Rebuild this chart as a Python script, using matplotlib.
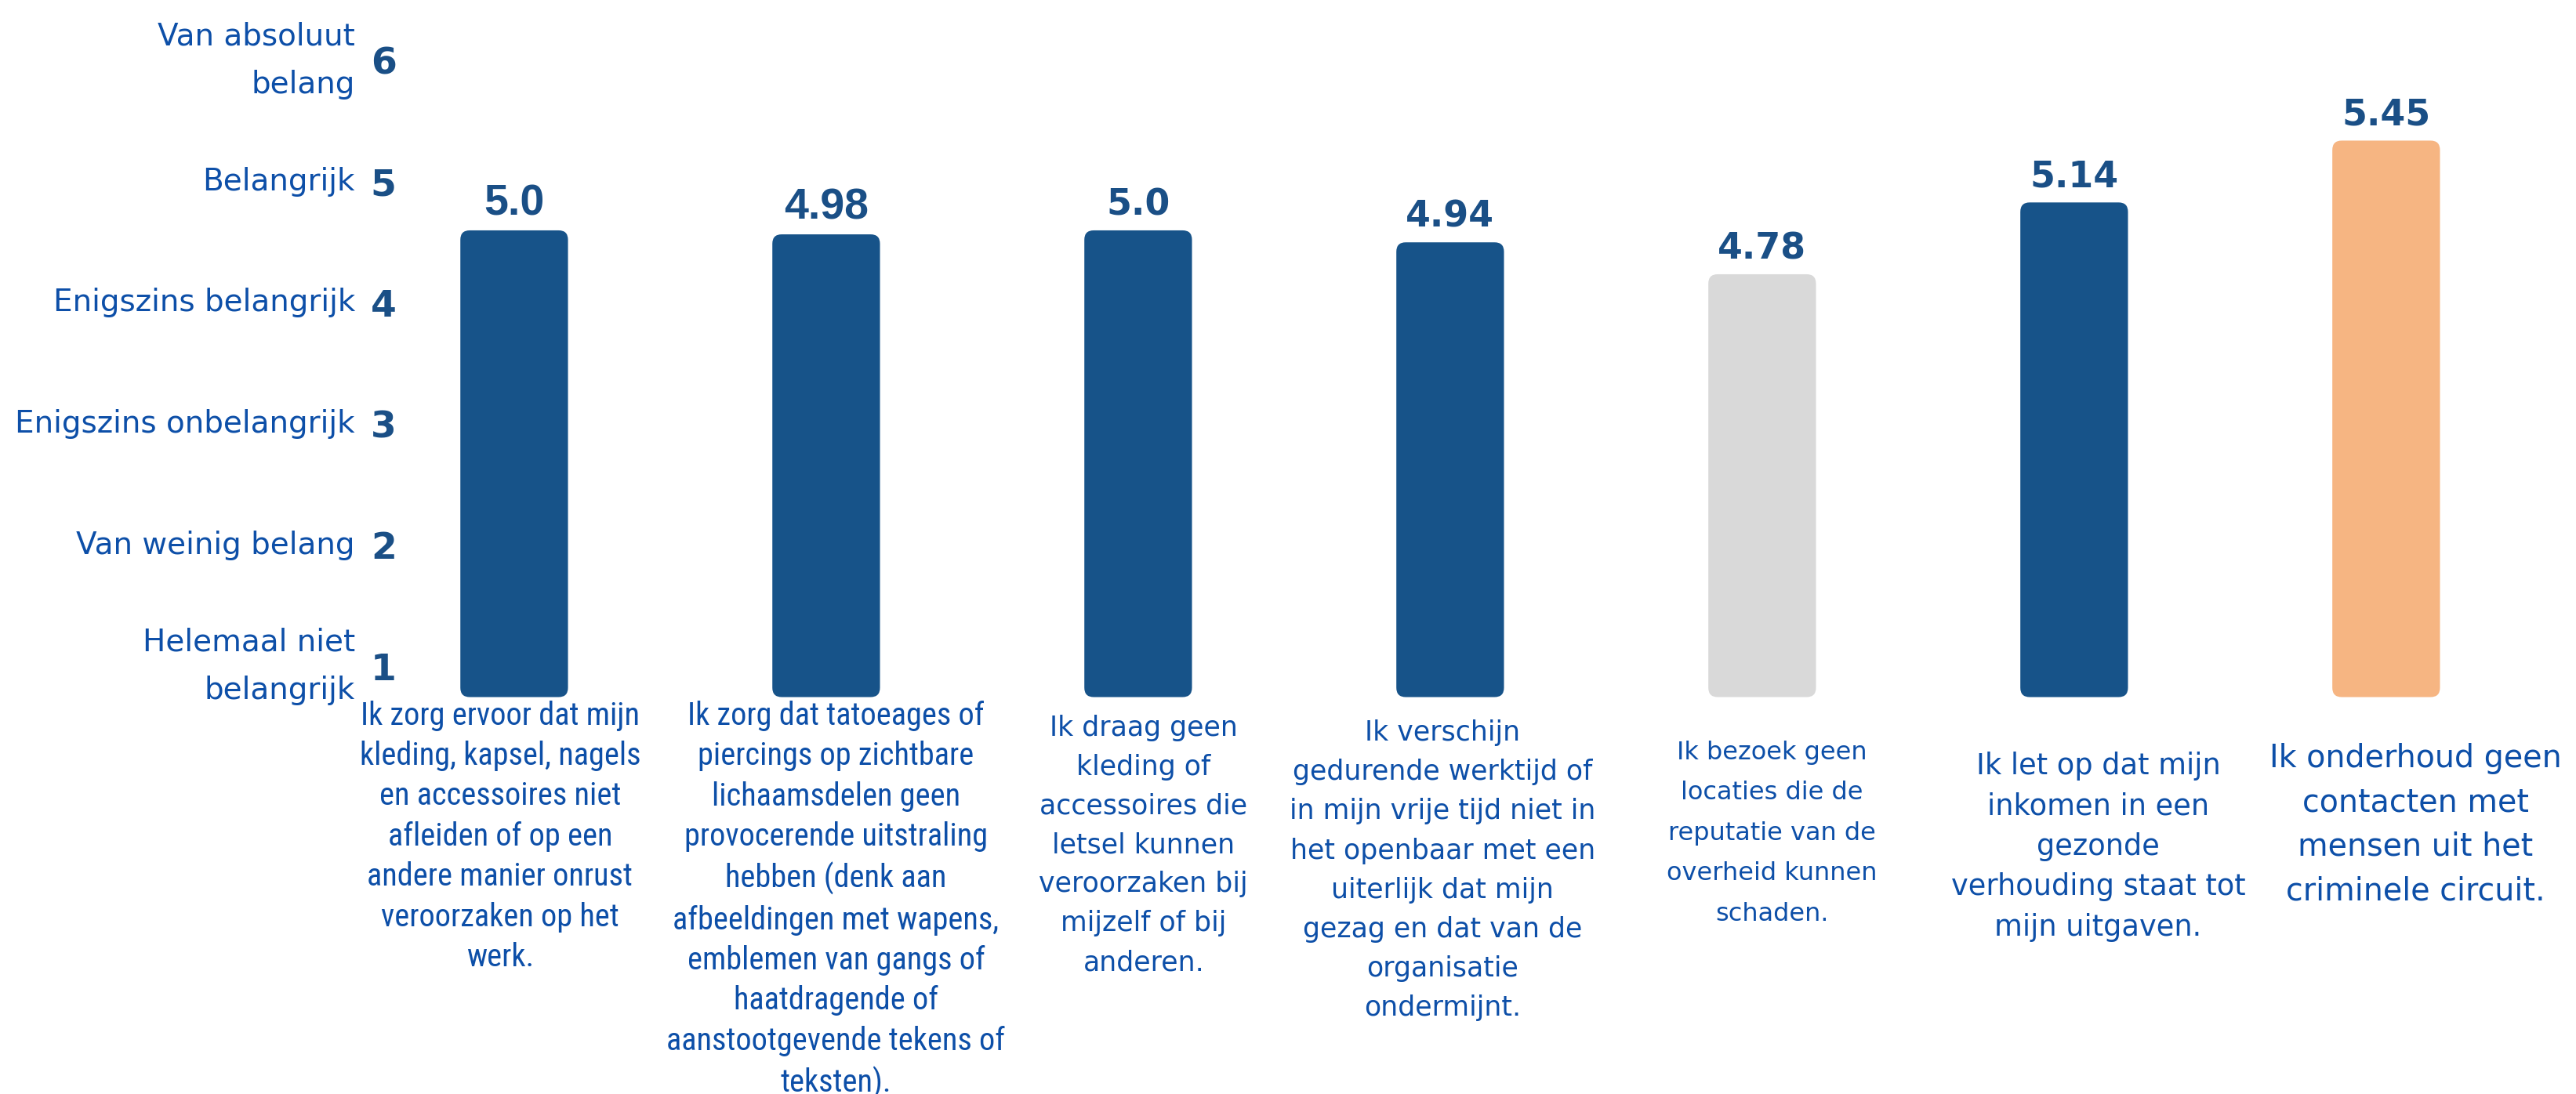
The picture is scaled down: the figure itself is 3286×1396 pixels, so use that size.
import matplotlib
matplotlib.use('Agg')

import matplotlib.pyplot as plt
from matplotlib import font_manager
from matplotlib.patches import FancyBboxPatch
from matplotlib.transforms import blended_transform_factory

# data
scores = [5.0, 4.98, 5.0, 4.94, 4.78, 5.14, 5.45]
statements = [
    "Ik zorg ervoor dat mijn\nkleding, kapsel, nagels\nen accessoires niet\nafleiden of op een\n"
    "andere manier onrust\nveroorzaken op het\nwerk.",
    "Ik zorg dat tatoeages of\npiercings op zichtbare\nlichaamsdelen geen\nprovocerende uitstraling\n"
    "hebben (denk aan\nafbeeldingen met wapens,\nemblemen van gangs of\nhaatdragende of\n"
    "aanstootgevende tekens of\nteksten).",
    "Ik draag geen\nkleding of\naccessoires die\nletsel kunnen\nveroorzaken bij\nmijzelf of bij\nanderen.",
    "Ik verschijn\ngedurende werktijd of\nin mijn vrije tijd niet in\nhet openbaar met een\n"
    "uiterlijk dat mijn\ngezag en dat van de\norganisatie\nondermijnt.",
    "Ik bezoek geen\nlocaties die de\nreputatie van de\noverheid kunnen\nschaden.",
    "Ik let op dat mijn\ninkomen in een\ngezonde\nverhouding staat tot\nmijn uitgaven.",
    "Ik onderhoud geen\ncontacten met\nmensen uit het\ncriminele circuit.",
]
scale_values = [1, 2, 3, 4, 5, 6]
scale_labels = [
    "Helemaal niet\nbelangrijk",
    "Van weinig belang",
    "Enigszins onbelangrijk",
    "Enigszins belangrijk",
    "Belangrijk",
    "Van absoluut\nbelang",
]

BAR_BLUE = '#175389'
GRAY = '#d9d9d9'
PEACH = '#f6b582'
VALUE_BLUE = '#1a4f86'
TEXT_BLUE = '#0d4fa8'
bar_colors = [BAR_BLUE, BAR_BLUE, BAR_BLUE, BAR_BLUE, GRAY, BAR_BLUE, PEACH]

# fonts: first two statements use a condensed face in the original
available = {f.name for f in font_manager.fontManager.ttflist}
narrow_sizes = {'Roboto Condensed': 29, 'Liberation Sans Narrow': 31, 'DejaVu Sans Condensed': 25}
narrow_font = next((n for n in narrow_sizes if n in available), 'Liberation Sans')
narrow_size = narrow_sizes.get(narrow_font, 25.5)

label_fonts = [narrow_font, narrow_font] + ['DejaVu Sans'] * 5
label_sizes = [narrow_size, narrow_size, 25, 25, 23, 26.5, 28.5]
label_spacing = [1.40, 1.40, 1.59, 1.6, 1.85, 1.5, 1.53]
# hand placed offsets (points) of the statement blocks, as in the original layout
label_dx = [-13, 9, 5, -7, 9, 22, 27]
label_dy = [-3, -3, -16, -20.5, -40, -50, -42]
value_fonts = ['Liberation Sans', 'Liberation Sans'] + ['DejaVu Sans'] * 5
value_sizes = [40, 40, 33, 33, 33, 33, 33]

W, H = 3287, 1396
BAR_BASE = 2.66

fig = plt.figure(figsize=(W / 100, H / 100), dpi=100)
fig.patch.set_facecolor('white')

ax = fig.add_axes([0, 0, 1, 1])
ax.set_xlim(-1.648, 6.611)
ax.set_ylim(0.67, 6.155)
ax.axis('off')

x = list(range(len(scores)))
heights = [v - BAR_BASE for v in scores]
bars = ax.bar(x, heights, bottom=BAR_BASE, width=0.345, color=bar_colors)

# rounded corners
aspect = 398 / 254.5
for b in bars:
    rounded = FancyBboxPatch(
        (b.get_x(), b.get_y()), b.get_width(), b.get_height(),
        boxstyle='round,pad=0,rounding_size=0.03',
        mutation_aspect=aspect,
        facecolor=b.get_facecolor(), edgecolor='none'
    )
    b.remove()
    ax.add_patch(rounded)

for i, v in enumerate(scores):
    ax.annotate(
        f"{v}", xy=(i, v), xytext=(0, 14), textcoords='offset points',
        ha='center', va='baseline', fontsize=value_sizes[i],
        fontfamily=value_fonts[i], fontweight='bold', color=VALUE_BLUE
    )
    ax.annotate(
        statements[i], xy=(i, BAR_BASE), xytext=(label_dx[i], label_dy[i]),
        textcoords='offset points',
        ha='center', va='top', multialignment='center',
        fontsize=label_sizes[i], fontfamily=label_fonts[i],
        linespacing=label_spacing[i], color=TEXT_BLUE
    )

# importance scale on the left, numbers as tick labels on the right side
ax_s = fig.add_axes([0, 0, 470 / W, 1])
ax_s.set_ylim(-2.526, 6.498)
ax_s.yaxis.tick_right()
ax_s.set_yticks(scale_values)
ax_s.set_yticklabels([str(v) for v in scale_values], fontsize=34,
                     fontweight='bold', color=VALUE_BLUE, fontfamily='DejaVu Sans')
ax_s.tick_params(axis='y', length=0, pad=2)
ax_s.set_xticks([])
for spine in ax_s.spines.values():
    spine.set_visible(False)
ax_s.patch.set_visible(False)

trans = blended_transform_factory(ax_s.transAxes, ax_s.transData)
for v, lab in zip(scale_values, scale_labels):
    ax_s.text(453 / 470, v, lab, transform=trans, ha='right', va='center',
              multialignment='right', fontsize=28, linespacing=1.77,
              color=TEXT_BLUE, fontfamily='DejaVu Sans')

fig.savefig('out.png', dpi=100, facecolor='white')
plt.close(fig)
